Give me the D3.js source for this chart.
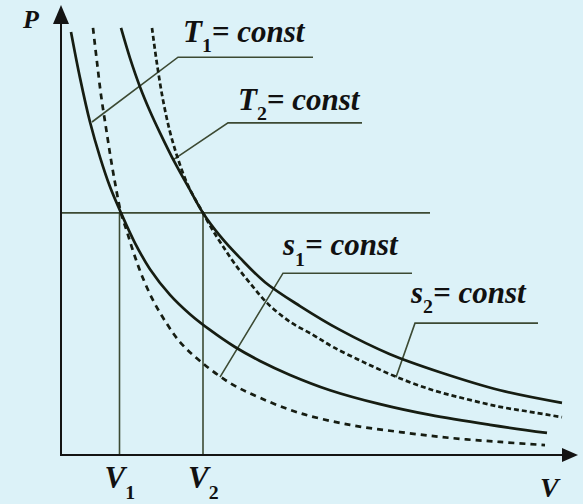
<!DOCTYPE html>
<html>
<head>
<meta charset="utf-8">
<script src="https://cdn.jsdelivr.net/npm/d3@7"></script>
<style>
  html, body { margin: 0; padding: 0; background: #dcf2f8; }
  svg { display: block; }
  .lbl { font-family: "Liberation Serif", "DejaVu Serif", serif; font-weight: bold; font-style: italic; fill: #111; }
</style>
</head>
<body>
<svg id="chart" width="583" height="504"></svg>
<script>
// P–V diagram: two isotherms (solid) and two adiabats (dashed), [V, P] in arbitrary units
const isothermT1 = [
  [0.20, 9.40], [0.38, 8.38], [0.58, 7.40], [0.78, 6.62], [0.98, 5.96], [1.20, 5.38],
  [1.48, 4.71], [1.78, 4.13], [2.18, 3.56], [2.58, 3.13], [2.98, 2.78], [3.48, 2.40],
  [3.98, 2.09], [4.58, 1.78], [5.38, 1.44], [6.38, 1.13], [7.38, 0.89], [8.58, 0.67], [9.72, 0.49]
];
const isothermT2 = [
  [1.20, 9.49], [1.38, 8.82], [1.58, 8.18], [1.78, 7.64], [1.98, 7.16], [2.28, 6.49],
  [2.58, 5.89], [2.84, 5.38], [3.18, 4.87], [3.58, 4.38], [4.08, 3.84], [4.78, 3.31],
  [5.58, 2.78], [6.58, 2.24], [7.58, 1.84], [8.78, 1.44], [10.02, 1.16]
];
const adiabatS1 = [
  [0.64, 9.49], [0.72, 8.73], [0.80, 8.00], [0.90, 7.27], [1.00, 6.56], [1.10, 5.93],
  [1.20, 5.38], [1.32, 4.96], [1.46, 4.47], [1.62, 3.98], [1.84, 3.44], [2.08, 2.98],
  [2.38, 2.51], [2.78, 2.09], [3.38, 1.60], [3.98, 1.27], [4.78, 0.93], [5.78, 0.67],
  [6.78, 0.51], [7.78, 0.38], [8.78, 0.29], [9.68, 0.22]
];
const adiabatS2 = [
  [1.82, 9.49], [1.92, 8.69], [2.04, 7.89], [2.18, 7.18], [2.34, 6.58], [2.52, 6.04],
  [2.68, 5.69], [2.84, 5.38], [3.02, 5.02], [3.22, 4.67], [3.48, 4.24], [3.78, 3.82],
  [4.12, 3.38], [4.58, 2.96], [5.04, 2.67], [5.44, 2.40], [6.04, 2.07], [6.72, 1.73],
  [7.44, 1.44], [8.12, 1.24], [8.78, 1.07], [9.38, 0.96], [10.02, 0.84]
];

// State points where each isotherm meets its adiabat
const volumeV1 = 1.17;
const volumeV2 = 2.84;
const pressureP0 = 5.38;
const pressureLineEnd = 7.38;

// Axis names and the marked volumes on the V axis
const axisNameX = "V";
const axisNameY = "P";
const volumeTicks = [
  { sym: "V", sub: "1", v: volumeV1 },
  { sym: "V", sub: "2", v: volumeV2 }
];

// Curve captions with their leader lines (data units)
const curveCaptions = [
  { sym: "T", sub: "1", rest: "= const", at: [2.44, 9.18],
    leader: [[0.62, 7.40], [2.34, 8.84], [5.04, 8.84]] },
  { sym: "T", sub: "2", rest: "= const", at: [3.54, 7.67],
    leader: [[2.24, 6.56], [3.34, 7.38], [6.02, 7.38]] },
  { sym: "s", sub: "1", rest: "= const", at: [4.44, 4.44],
    leader: [[3.18, 1.73], [4.44, 4.04], [7.02, 4.04]] },
  { sym: "s", sub: "2", rest: "= const", at: [7.00, 3.38],
    leader: [[6.70, 1.73], [7.08, 2.93], [9.54, 2.93]] }
];

const svg = d3.select("#chart");
const W = 583, H = 504;

svg.append("rect").attr("width", W).attr("height", H).attr("fill", "#dcf2f8");

const x = d3.scaleLinear().domain([0, 10]).range([61, 561]);
const y = d3.scaleLinear().domain([0, 10]).range([455, 5]);

const inkCurve = "#161d12";
const inkGuide = "#3c4a33";
const inkAxis = "#141414";

// Guide lines through the two state points
const guides = svg.append("g").attr("stroke", inkGuide).attr("stroke-width", 1.6).attr("fill", "none");
guides.append("line")
  .attr("x1", x(0)).attr("x2", x(pressureLineEnd))
  .attr("y1", y(pressureP0)).attr("y2", y(pressureP0));
volumeTicks.forEach(t => {
  guides.append("line")
    .attr("x1", x(t.v)).attr("x2", x(t.v))
    .attr("y1", y(pressureP0)).attr("y2", y(0));
});

// Leader lines for the captions
const leaderLine = d3.line().x(d => x(d[0])).y(d => y(d[1]));
svg.append("g").selectAll("path").data(curveCaptions).join("path")
  .attr("d", d => leaderLine(d.leader))
  .attr("fill", "none").attr("stroke", inkGuide).attr("stroke-width", 1.6);

// Curves
const curveLine = d3.line()
  .x(d => x(d[0])).y(d => y(d[1]))
  .curve(d3.curveCatmullRom.alpha(0.5));

const curves = [
  { data: isothermT1, dash: null },
  { data: isothermT2, dash: null },
  { data: adiabatS1, dash: "6,5" },
  { data: adiabatS2, dash: "5,3" }
];
svg.append("g").selectAll("path").data(curves).join("path")
  .attr("d", d => curveLine(d.data))
  .attr("fill", "none")
  .attr("stroke", inkCurve)
  .attr("stroke-width", 2.7)
  .attr("stroke-dasharray", d => d.dash);

// Axes with arrow heads
const axes = svg.append("g");
axes.append("line")
  .attr("x1", x(0) - 1).attr("x2", x(10.02))
  .attr("y1", y(0)).attr("y2", y(0))
  .attr("stroke", inkAxis).attr("stroke-width", 2);
axes.append("line")
  .attr("x1", x(0)).attr("x2", x(0))
  .attr("y1", y(0) + 1).attr("y2", y(9.6))
  .attr("stroke", inkAxis).attr("stroke-width", 2);
axes.append("path")
  .attr("d", `M${x(10.34)},${y(0)} L${x(10.02)},${y(0) - 7} L${x(10.02)},${y(0) + 7} Z`)
  .attr("fill", inkAxis);
axes.append("path")
  .attr("d", `M${x(0)},${y(10)} L${x(0) - 8},${y(9.58)} L${x(0) + 8},${y(9.58)} Z`)
  .attr("fill", inkAxis);

// A symbol with an optional subscript and trailing text, as one text element
function symbolText(g, px, py, size, sym, sub, rest) {
  const t = g.append("text").attr("class", "lbl")
    .attr("x", px).attr("y", py)
    .attr("font-size", size);
  t.append("tspan").text(sym);
  if (sub) {
    t.append("tspan").attr("font-size", size * 0.64).attr("font-style", "normal")
      .attr("dy", size * 0.34).text(sub);
  }
  if (rest) {
    t.append("tspan").attr("dy", -size * 0.34).text(rest);
  }
  return t;
}

const labels = svg.append("g");
curveCaptions.forEach(c => {
  symbolText(labels, x(c.at[0]), y(c.at[1]), 31, c.sym, c.sub, c.rest);
});

volumeTicks.forEach(t => {
  symbolText(labels, x(t.v) - 15, y(0) + 33, 31, t.sym, t.sub, null);
});

symbolText(labels, x(9.58), y(0) + 42, 28, axisNameX, null, null);
symbolText(labels, x(-0.76), y(9.49), 26, axisNameY, null, null);
</script>
</body>
</html>
